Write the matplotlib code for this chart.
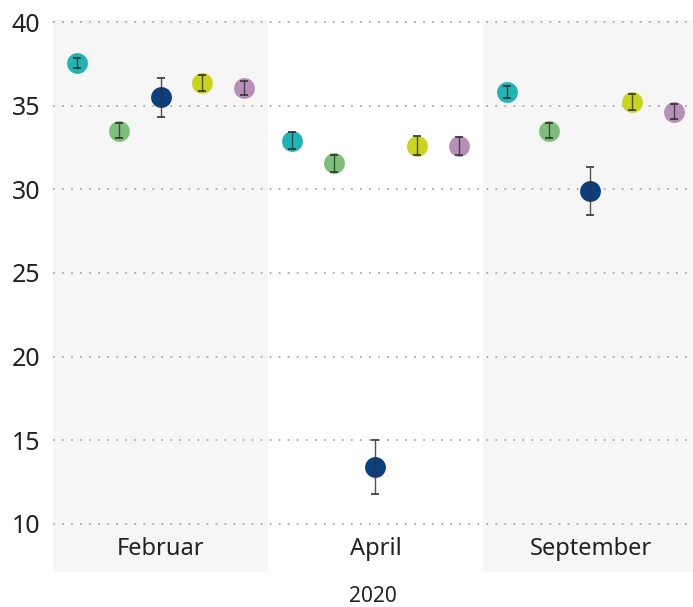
import matplotlib.pyplot as plt
import numpy as np

plt.rcParams['font.family'] = ['Noto Sans', 'DejaVu Sans']

# Data
months = ['Februar', 'April', 'September']
series_colors = ['#22b3b5', '#7dbf78', '#0b3f7f', '#c9d41c', '#b78fb9']

values = [
    [37.55, 33.5, 35.5, 36.35, 36.05],   # Februar
    [32.9, 31.55, 13.4, 32.6, 32.6],     # April
    [35.8, 33.5, 29.9, 35.2, 34.65],     # September
]
errors = [
    [0.28, 0.45, 1.15, 0.5, 0.42],
    [0.5, 0.5, 1.6, 0.57, 0.55],
    [0.35, 0.45, 1.42, 0.47, 0.47],
]

fig = plt.figure(figsize=(6.93, 6.07), dpi=100)
ax = fig.add_axes([0.0765, 0.0577, 0.9235, 0.9093])

# alternating background bands
for i in range(len(months)):
    if i % 2 == 0:
        ax.axvspan(i - 0.5, i + 0.5, color='#f6f6f6', zorder=0, lw=0)

offsets = np.linspace(-0.39, 0.39, 5)
for i, month in enumerate(months):
    for j in range(5):
        ax.plot(i + offsets[j], values[i][j], 'o', color=series_colors[j],
                markersize=15, markeredgewidth=0, zorder=3)
        ax.errorbar(i + offsets[j], values[i][j], yerr=errors[i][j], fmt='none',
                    ecolor='#333333', elinewidth=1, capsize=3, capthick=1.4,
                    zorder=4, alpha=0.85)

ax.set_xlim(-0.5, 2.477)
ax.set_ylim(7.13, 40.12)
ax.set_yticks([10, 15, 20, 25, 30, 35, 40])
ax.set_xticks(range(len(months)))
ax.set_xticklabels(months, fontsize=17, color='#222222')
ax.tick_params(axis='x', length=0, pad=-25)
ax.tick_params(axis='y', length=0, pad=9, labelsize=18, labelcolor='#222222')
ax.grid(axis='y', linestyle=(0, (1, 4)), color='#aaaaaa', linewidth=1.3)
ax.set_axisbelow(False)
for sp in ax.spines.values():
    sp.set_visible(False)

ax.set_xlabel('2020', fontsize=15, color='#222222', labelpad=10)

fig.savefig('out.png', dpi=100)
